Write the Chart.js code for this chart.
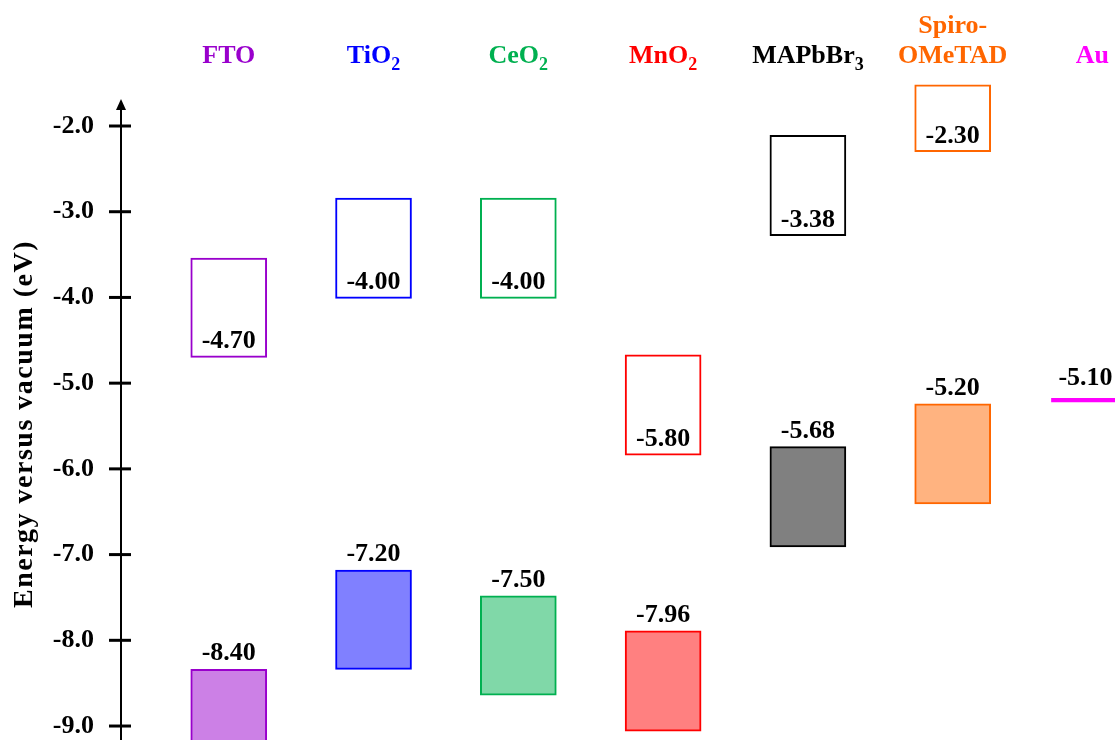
<!DOCTYPE html>
<html lang="en">
<head>
  <meta charset="UTF-8">
  <title>Energy levels</title>
  <script src="https://cdn.jsdelivr.net/npm/chart.js"></script>
  <style>
    body { margin: 0; background: #fff; overflow: hidden; }
    .wrap { width: 1115px; height: 740px; }
  </style>
</head>
<body>
  <div class="wrap">
    <canvas id="bandChart"></canvas>
  </div>

  <script>
    // Materials (digits are drawn as subscripts)
    const materials = ['FTO', 'TiO2', 'CeO2', 'MnO2', 'MAPbBr3', 'Spiro-OMeTAD', 'Au'];

    // Upper boxes (conduction band / LUMO), eV
    const cbTop    = [-3.54, -2.84, -2.84, -4.67, -2.11, -1.52];
    const cbBottom = [-4.70, -4.01, -4.01, -5.84, -3.28, -2.30];
    const cbText   = ['-4.70', '-4.00', '-4.00', '-5.80', '-3.38', '-2.30'];

    // Lower boxes (valence band / HOMO), eV
    const vbTop    = [-8.34, -7.18, -7.48, -7.89, -5.74, -5.24];
    const vbBottom = [-9.60, -8.34, -8.64, -9.06, -6.91, -6.41];
    const vbText   = ['-8.40', '-7.20', '-7.50', '-7.96', '-5.68', '-5.20'];

    // Au work function line
    const auLevel = [-5.178, -5.218];
    const auText = '-5.10';

    const yTicks = [-9, -8, -7, -6, -5, -4, -3, -2];

    // colours
    const lineColors = ['#9900cc', '#0000ff', '#00b050', '#ff0000', '#000000', '#ff6600', '#ff00ff'];
    const fillColors = ['#cc80e6', '#8080ff', '#80d8a8', '#ff8080', '#808080', '#ffb380'];

    const FONT = '"Liberation Serif", "Times New Roman", serif';

    const cbData = cbTop.map((t, i) => ({ x: i, y: [cbBottom[i], t] }));
    const vbData = vbTop.map((t, i) => ({ x: i, y: [vbBottom[i], t] }));

    // draw text with trailing digits as subscripts, centred on x (kept inside maxRight)
    function drawFormula(ctx, text, x, y, color, maxRight) {
      const parts = text.split(/(\d+)/).filter(p => p.length);
      const big = 'bold 26px ' + FONT;
      const small = 'bold 18px ' + FONT;
      let total = 0;
      parts.forEach(p => {
        ctx.font = /^\d+$/.test(p) ? small : big;
        total += ctx.measureText(p).width;
      });
      let cx = Math.min(x - total / 2, maxRight - total);
      ctx.fillStyle = color;
      ctx.textAlign = 'left';
      ctx.textBaseline = 'alphabetic';
      parts.forEach(p => {
        const sub = /^\d+$/.test(p);
        ctx.font = sub ? small : big;
        ctx.fillText(p, cx, sub ? y + 7 : y);
        cx += ctx.measureText(p).width;
      });
    }

    const decorations = {
      id: 'decorations',
      afterDraw(chart) {
        const ctx = chart.ctx;
        const xs = chart.scales.x;
        const ys = chart.scales.y;
        const left = chart.chartArea.left + 1;
        const maxRight = chart.width - 6;
        ctx.save();

        // axis line with arrow
        ctx.strokeStyle = '#000';
        ctx.lineWidth = 2;
        ctx.beginPath();
        ctx.moveTo(left, 106);
        ctx.lineTo(left, chart.height);
        ctx.stroke();
        ctx.fillStyle = '#000';
        ctx.beginPath();
        ctx.moveTo(left, 99);
        ctx.lineTo(left - 5, 110);
        ctx.lineTo(left + 5, 110);
        ctx.closePath();
        ctx.fill();

        // tick marks crossing the axis
        ctx.lineWidth = 3;
        yTicks.forEach(v => {
          const py = ys.getPixelForValue(v);
          ctx.beginPath();
          ctx.moveTo(left - 12, py);
          ctx.lineTo(left + 10, py);
          ctx.stroke();
        });

        // axis title
        ctx.save();
        ctx.translate(25, 424);
        ctx.rotate(-Math.PI / 2);
        ctx.font = 'bold 28px ' + FONT;
        ctx.letterSpacing = '1.5px';
        ctx.fillStyle = '#000';
        ctx.textAlign = 'center';
        ctx.textBaseline = 'middle';
        ctx.fillText('Energy versus vacuum (eV)', 0, 0);
        ctx.restore();

        // material names on top
        materials.forEach((name, i) => {
          const px = xs.getPixelForValue(i);
          if (name.includes('-')) {
            const k = name.indexOf('-') + 1;
            drawFormula(ctx, name.slice(0, k), px, 33, lineColors[i], maxRight);
            drawFormula(ctx, name.slice(k), px, 63, lineColors[i], maxRight);
          } else {
            drawFormula(ctx, name, px, 63, lineColors[i], maxRight);
          }
        });

        // value labels
        ctx.font = 'bold 26px ' + FONT;
        ctx.fillStyle = '#000';
        ctx.textAlign = 'center';
        ctx.textBaseline = 'alphabetic';
        cbText.forEach((t, i) => {
          ctx.fillText(t, xs.getPixelForValue(i), ys.getPixelForValue(cbBottom[i]) - 9);
        });
        vbText.forEach((t, i) => {
          ctx.fillText(t, xs.getPixelForValue(i), ys.getPixelForValue(vbTop[i]) - 9);
        });
        ctx.fillText(auText, xs.getPixelForValue(6) - 12, ys.getPixelForValue(auLevel[0]) - 13);

        ctx.restore();
      }
    };

    new Chart(document.getElementById('bandChart'), {
      type: 'bar',
      data: {
        datasets: [
          {
            label: 'CB',
            data: cbData,
            backgroundColor: '#ffffff',
            borderColor: lineColors.slice(0, 6),
            borderWidth: 2,
            borderSkipped: false,
            barThickness: 76,
            grouped: false,
            clip: false
          },
          {
            label: 'VB',
            data: vbData,
            backgroundColor: fillColors,
            borderColor: lineColors.slice(0, 6),
            borderWidth: 2,
            borderSkipped: false,
            barThickness: 76,
            grouped: false,
            clip: false
          },
          {
            label: 'Au',
            data: [{ x: 6, y: auLevel }],
            backgroundColor: lineColors[6],
            borderWidth: 0,
            barThickness: 92,
            grouped: false
          }
        ]
      },
      options: {
        responsive: true,
        maintainAspectRatio: false,
        animation: false,
        layout: { padding: { top: 75, left: 0, right: 0, bottom: 0 } },
        plugins: {
          legend: { display: false },
          tooltip: { enabled: false }
        },
        scales: {
          x: {
            type: 'linear',
            display: false,
            offset: false,
            min: -0.751,
            max: 6.121
          },
          y: {
            min: -9.163,
            max: -1.405,
            grid: { display: false, drawTicks: false },
            border: { display: false },
            afterBuildTicks: (scale) => {
              scale.ticks = yTicks.map(v => ({ value: v }));
            },
            afterFit: (scale) => {
              scale.width = 120;
              scale.paddingTop = 0;
              scale.paddingBottom = 0;
            },
            ticks: {
              padding: 26,
              color: '#000',
              font: { family: FONT, size: 26, weight: 'bold' },
              callback: (v) => v.toFixed(1)
            }
          }
        }
      },
      plugins: [decorations]
    });
  </script>
</body>
</html>
